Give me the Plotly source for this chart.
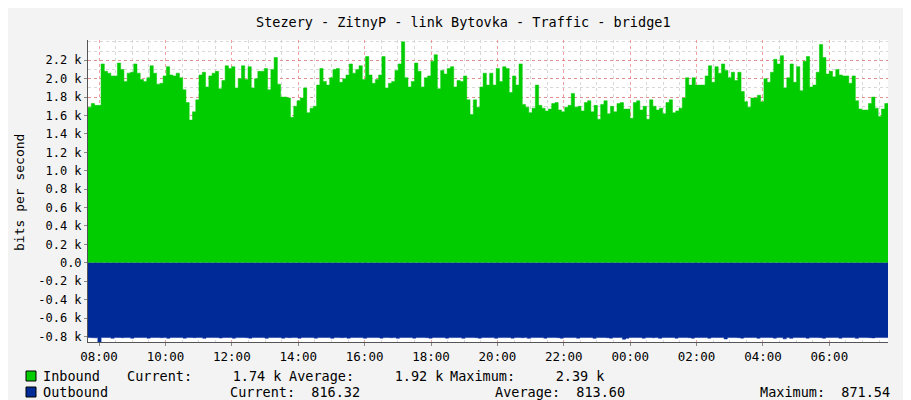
import plotly.graph_objects as go
import pandas as pd

# inbound traffic, k bits/s, ~6 min samples from 07:40 to 07:46 next day
inbound_k = [
    1.69, 1.73, 1.71, 1.71, 2.16, 2.08, 2.06, 2.03, 2.03, 2.17, 2.10, 1.97, 2.06, 2.07, 2.16, 2.06,
    1.99, 1.97, 2.01, 2.14, 2.06, 1.94, 1.95, 2.03, 2.13, 2.04, 2.03, 2.06, 2.01, 1.88, 1.74, 1.55,
    1.64, 1.77, 2.04, 2.07, 1.91, 2.03, 2.06, 2.08, 1.89, 1.98, 2.14, 2.11, 2.13, 1.90, 2.00, 2.14,
    1.99, 2.13, 1.90, 2.00, 2.08, 2.08, 2.11, 1.88, 2.10, 2.23, 1.94, 1.80, 1.80,
    1.79, 1.58, 1.70, 1.76, 1.79, 1.90, 1.63, 1.68, 1.70, 1.93, 2.11, 1.97, 1.93, 2.01, 2.10, 2.11,
    1.96, 2.00, 2.04, 2.16, 2.06, 2.10, 2.14, 1.99, 2.24, 2.04, 1.95, 1.99, 2.04, 2.24, 1.90, 1.95,
    1.97, 2.09, 2.16, 2.40, 2.01, 1.91, 1.97, 2.17, 2.08, 1.91, 2.01, 2.03, 2.19, 2.26, 1.89, 2.09,
    2.05, 2.11, 2.13, 1.91, 1.98, 1.97, 2.03, 1.77, 1.61, 1.77, 1.69, 1.91, 2.06, 1.93,
    2.06, 1.93, 2.11, 1.97, 2.13, 2.11, 1.85, 2.03, 1.93, 2.16, 1.72, 1.69, 1.63, 1.68, 1.93, 1.71,
    1.68, 1.65, 1.67, 1.73, 1.74, 1.66, 1.64, 1.69, 1.71, 1.84, 1.69, 1.70, 1.65, 1.74, 1.76, 1.64,
    1.71, 1.56, 1.72, 1.76, 1.62, 1.70, 1.64, 1.73, 1.74, 1.67, 1.67, 1.57, 1.74, 1.76, 1.66, 1.70,
    1.56, 1.77, 1.70, 1.66, 1.68, 1.62, 1.74, 1.77, 1.63, 1.65, 1.68, 1.79, 2.01, 1.93,
    2.01, 1.93, 1.93, 1.93, 2.03, 2.14, 1.96, 2.13, 2.06, 2.16, 2.09, 2.01, 2.07, 1.98, 2.07, 1.86,
    1.75, 1.69, 1.79, 1.79, 1.82, 1.75, 2.00, 1.96, 2.07, 2.21, 2.16, 2.25, 1.90, 2.01, 2.16, 1.96,
    2.13, 1.87, 2.19, 2.24, 1.91, 1.93, 2.07, 2.37, 2.23, 2.05, 2.08, 2.02, 2.10, 2.04, 2.03, 2.03,
    1.95, 2.03, 1.76, 1.67, 1.66, 1.66, 1.73, 1.80, 1.68, 1.59, 1.67, 1.73, 1.74,
]

# outbound traffic, bits/s (drawn below zero)
outbound = [
    812, 813, 815, 871, 812, 811, 812, 820, 812, 811, 813, 812, 812, 819, 812, 811, 812, 812, 818, 812,
    811, 812, 813, 812, 819, 812, 812, 811, 812, 818, 812, 812, 813, 812, 812, 820, 811, 812, 812, 812,
    817, 812, 811, 812, 819, 812, 812, 812, 813, 818, 812, 811, 812, 812, 820, 812, 812, 811, 812, 818,
    812, 813, 812, 812, 819, 811, 812, 812, 812, 818, 812, 812, 811, 812, 820, 812, 812, 813, 812, 818,
    812, 811, 812, 812, 819, 812, 812, 812, 811, 818, 812, 812, 813, 812, 820, 812, 812, 811, 812, 818,
    812, 812, 812, 813, 819, 811, 812, 812, 812, 818, 812, 812, 811, 812, 820, 812, 812, 812, 813, 818,
    812, 811, 812, 812, 819, 812, 812, 812, 811, 818, 812, 812, 813, 812, 820, 812, 812, 811, 812, 818,
    812, 812, 812, 813, 819, 811, 812, 812, 812, 818, 812, 812, 811, 812, 820, 812, 812, 812, 813, 818,
    812, 811, 812, 830, 819, 812, 812, 812, 811, 818, 812, 812, 813, 812, 820, 812, 812, 811, 812, 818,
    812, 812, 812, 813, 819, 811, 812, 812, 812, 818, 812, 812, 811, 812, 827, 812, 812, 812, 813, 818,
    812, 811, 812, 812, 819, 812, 812, 812, 811, 818, 812, 812, 826, 812, 820, 812, 812, 811, 812, 818,
    812, 812, 812, 813, 819, 811, 812, 812, 812, 818, 812, 812, 811, 812, 820, 812, 812, 812, 813, 816,
    812, 811, 812, 812, 816,
]

ytick_vals = [2.2, 2.0, 1.8, 1.6, 1.4, 1.2, 1.0, 0.8, 0.6, 0.4, 0.2, 0.0, -0.2, -0.4, -0.6, -0.8]
ytick_text = ["2.2 k", "2.0 k", "1.8 k", "1.6 k", "1.4 k", "1.2 k", "1.0 k", "0.8 k", "0.6 k",
              "0.4 k", "0.2 k", "0.0", "-0.2 k", "-0.4 k", "-0.6 k", "-0.8 k"]

t_in = pd.date_range("2024-01-01 07:40", "2024-01-02 07:46", periods=len(inbound_k))
t_out = pd.date_range("2024-01-01 07:40", "2024-01-02 07:46", periods=len(outbound))

MONO = "DejaVu Sans Mono"
L, R, T, B = 80, 31, 32, 66
PW, PH = 911 - L - R, 400 - T - B

fig = go.Figure()
fig.add_trace(go.Scatter(x=t_in, y=[v * 1000 for v in inbound_k], mode="lines",
                         line=dict(color="#00CC00", width=0.5, shape="hv"),
                         fill="tozeroy", fillcolor="#00CC00", hoverinfo="skip"))
fig.add_trace(go.Scatter(x=t_out, y=[-v for v in outbound], mode="lines",
                         line=dict(color="#002A97", width=0.5, shape="hv"),
                         fill="tozeroy", fillcolor="#002A97", hoverinfo="skip"))

fig.update_layout(
    width=911, height=400,
    margin=dict(l=L, r=R, t=T, b=B, autoexpand=False),
    paper_bgcolor="#F3F3F3", plot_bgcolor="#FFFFFF",
    showlegend=False,
    font=dict(family=MONO, size=12, color="#000"),
)
fig.update_xaxes(
    range=["2024-01-01 07:40", "2024-01-02 07:46"],
    tickformat="%H:%M", dtick=2 * 3600 * 1000, tick0="2024-01-01 08:00",
    showgrid=True, gridcolor="rgba(230,100,100,0.6)", griddash="dot", gridwidth=1,
    minor=dict(dtick=30 * 60 * 1000, showgrid=True, gridcolor="#D8D8D8", griddash="dot"),
    showline=True, linecolor="#555", ticks="outside", ticklen=3, tickcolor="#888",
    tickfont=dict(family=MONO, size=12.5), zeroline=False, automargin=False,
)
fig.update_yaxes(
    range=[-860, 2420],
    tickvals=[v * 1000 for v in ytick_vals], ticktext=ytick_text,
    showgrid=True, gridcolor="rgba(230,100,100,0.6)", griddash="dot", gridwidth=1,
    minor=dict(dtick=100, showgrid=True, gridcolor="#D8D8D8", griddash="dot"),
    showline=True, linecolor="#555", ticks="outside", ticklen=3, tickcolor="#888",
    tickfont=dict(family=MONO, size=12), zeroline=False, automargin=False,
)

# helpers: figure pixels -> paper coords (paper = plot area)
def px_x(p):
    return (p - L) / PW

def px_y(p):
    return (400 - B - p) / PH

fig.add_annotation(text="Stezery - ZitnyP - link Bytovka - Traffic - bridge1",
                   xref="paper", yref="paper", x=px_x(455), y=px_y(14),
                   xanchor="center", yanchor="middle", showarrow=False,
                   font=dict(family=MONO, size=13.5))
fig.add_annotation(text="bits per second", textangle=-90, xref="paper", yref="paper",
                   x=px_x(11), y=px_y(185), xanchor="center", yanchor="middle",
                   showarrow=False, font=dict(family=MONO, size=13))

for py, col in [(368, "#00CC00"), (384, "#002A97")]:
    fig.add_shape(type="rect", xref="paper", yref="paper",
                  x0=px_x(18), x1=px_x(28), y0=px_y(py + 5), y1=px_y(py - 5),
                  fillcolor=col, line=dict(color="#000", width=1))

legend_items = [
    (33, 368, "Inbound"), (117, 368, "Current:     1.74 k"), (279, 368, "Average:     1.92 k"),
    (440, 368, "Maximum:     2.39 k"),
    (33, 384, "Outbound"), (220, 384, "Current:  816.32"), (485, 384, "Average:  813.60"),
    (750, 384, "Maximum:  871.54"),
]
for lx, ly, txt in legend_items:
    fig.add_annotation(text=txt.replace(" ", "&nbsp;"), xref="paper", yref="paper",
                       x=px_x(lx), y=px_y(ly), xanchor="left", yanchor="middle",
                       showarrow=False, font=dict(family=MONO, size=13.5, color="#000"))

fig.add_annotation(text="RRDTOOL / TOBI OETIKER", textangle=90, xref="paper", yref="paper",
                   x=px_x(900), y=px_y(60), xanchor="center", yanchor="middle",
                   showarrow=False, font=dict(family=MONO, size=7, color="#999"))

fig.write_html("out.html")
